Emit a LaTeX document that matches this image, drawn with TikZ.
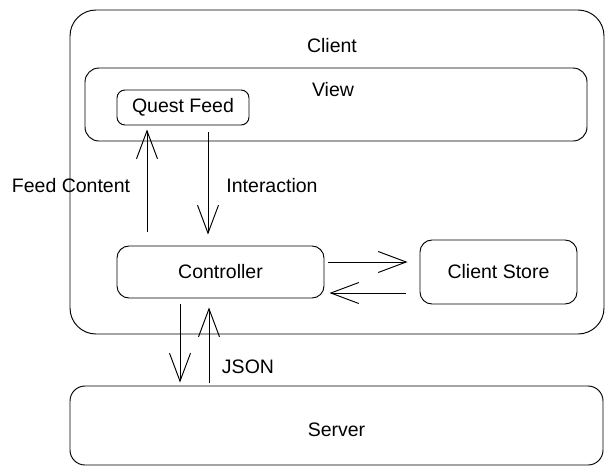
\documentclass[tikz,border=0pt]{standalone}
\usepackage{fontspec}
\setmainfont{Liberation Sans}
\usetikzlibrary{arrows.meta,positioning}

\begin{document}
\begin{tikzpicture}[x=1pt,
            y=-1pt,
            ->,
            >={Straight Barb[length=28pt,width=21pt]},
            line width=0.95pt,
            font=\fontsize{19.5}{23}\selectfont,
            box/.style={draw, rectangle, rounded corners=#1, inner sep=0pt},
            box/.default=12pt]

        \useasboundingbox (0,0) rectangle (613,475);

        % containers
        \node[box=26pt, minimum width=534pt, minimum height=324pt] (client) at (337,172) {};
        \node (clientlbl) at (332,46) {Client};
        \node[box=14pt, minimum width=502pt, minimum height=73pt]  (view)   at (336,104.5) {};
        \node (viewlbl) at (333,90) {View};

        % components
        \node[box=8pt, minimum width=132pt, minimum height=35pt]   (qf)     at (183,107.5) {Quest Feed};
        \node[box,     minimum width=207pt, minimum height=52pt]   (ctrl)   at (220.5,272) {Controller};
        \node[box,     minimum width=157pt, minimum height=64pt]   (store)  at (498.5,272) {Client Store};
        \node[box=15pt, minimum width=533pt, minimum height=79pt,
              text height=22pt]                                    (server) at (336.5,425.5) {Server};

        % labels
        \node (fclbl)  at (71,186)  {Feed Content};
        \node (intlbl) at (272,186) {Interaction};
        \node (json)   at (248,367) {JSON};

        \path ([xshift=-73.5pt,yshift=14pt]ctrl.north)  edge ([xshift=-36pt,yshift=-4pt]qf.south)
              ([xshift=25pt,yshift=-7pt]qf.south)       edge ([xshift=-12.5pt,yshift=11pt]ctrl.north)
              ([xshift=4pt,yshift=10pt]ctrl.east)       edge ([xshift=-12pt,yshift=10pt]store.west)
              ([xshift=-14pt,yshift=-21pt]store.west)   edge ([xshift=5pt,yshift=-21pt]ctrl.east)
              ([xshift=-40.5pt,yshift=-6pt]ctrl.south)  edge ([xshift=-156.5pt,yshift=3pt]server.north)
              ([xshift=-127.5pt,yshift=3pt]server.north) edge ([xshift=-11.5pt,yshift=-9pt]ctrl.south);

    \end{tikzpicture}
\end{document}
